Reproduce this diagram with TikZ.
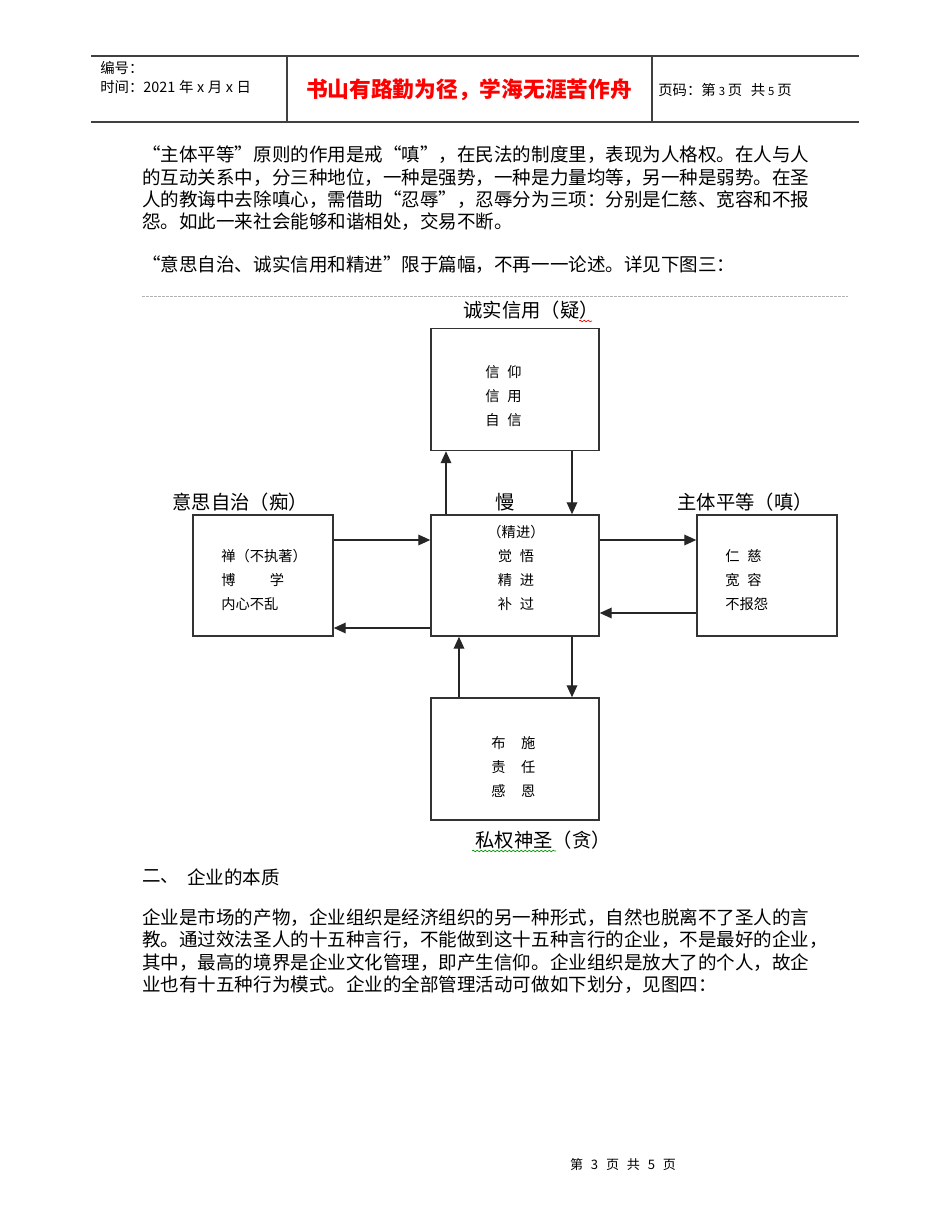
\documentclass[tikz,border=0pt]{standalone}
\usepackage{fontspec}
\setmainfont{Noto Sans CJK SC}
\usetikzlibrary{arrows.meta,decorations.pathmorphing}
\begin{document}
\begin{tikzpicture}[x=0.75pt,y=-0.75pt,
  body/.style={anchor=west,inner sep=0pt,font=\fontsize{13.9}{16}\selectfont},
  hdr/.style={anchor=west,inner sep=0pt,font=\fontsize{10.8}{12}\selectfont},
  rule/.style={draw=black!75,line width=0.8pt},
  box/.style={draw=black!80,line width=1.1pt},
  lbl/.style={inner sep=0pt,font=\fontsize{14.5}{16}\selectfont},
  boxtext/.style={inner sep=0pt,align=left,font=\fontsize{10.7}{18}\selectfont},
  conn/.style={draw=black!85,line width=1pt,-{Triangle[length=9pt,width=8pt]}},
  squig/.style={decorate,decoration={snake,amplitude=0.6pt,segment length=3pt},line width=0.5pt}
]
\useasboundingbox (0,0) rectangle (950,1230);
% header
\coordinate (h1) at (91,56); \coordinate (h2) at (859,56);
\coordinate (h3) at (91,122); \coordinate (h4) at (859,122);
\coordinate (v1a) at (287,56); \coordinate (v1b) at (287,122);
\coordinate (v2a) at (652,56); \coordinate (v2b) at (652,122);
\draw[rule] (h1) -- (h2);
\draw[rule] (h3) -- (h4);
\draw[rule] (v1a) -- (v1b);
\draw[rule] (v2a) -- (v2b);
\node[hdr] (bh) at (100,68) {编号：};
\node[hdr] (sj) at (100,87) {时间：2021\hspace{0.25em}年\hspace{0.25em}x\hspace{0.25em}月\hspace{0.25em}x\hspace{0.25em}日};
\node[inner sep=0pt,text=red,font=\fontsize{16.3}{18}\selectfont\bfseries] (motto) at (469,90) {书山有路勤为径，学海无涯苦作舟};
\node[hdr] (ym) at (658,90) {页码：第\hspace{0.2em}{\fontsize{8.5}{10}\selectfont 3}\hspace{0.2em}页\hspace{0.6em}共\hspace{0.2em}{\fontsize{8.5}{10}\selectfont 5}\hspace{0.2em}页};
% body text
\node[body] (p1) at (142,155) {“主体平等”原则的作用是戒“嗔”，在民法的制度里，表现为人格权。在人与人};
\node[body] (p2) at (142,178) {的互动关系中，分三种地位，一种是强势，一种是力量均等，另一种是弱势。在圣};
\node[body] (p3) at (142,200) {人的教诲中去除嗔心，需借助“忍辱”，忍辱分为三项：分别是仁慈、宽容和不报};
\node[body] (p4) at (142,222) {怨。如此一来社会能够和谐相处，交易不断。};
\node[body] (p5) at (142,265) {“意思自治、诚实信用和精进”限于篇幅，不再一一论述。详见下图三：};
\coordinate (d1) at (142,296); \coordinate (d2) at (848,296);
\draw[black!30,dashed,dash pattern=on 2pt off 1pt,line width=0.6pt] (d1) -- (d2);
% boxes
\node[box,minimum width=126pt,minimum height=91.5pt,inner sep=0pt] (top) at (515,389.5) {};
\node[box,minimum width=126pt,minimum height=90.75pt,inner sep=0pt] (mid) at (515,575.5) {};
\node[box,minimum width=105pt,minimum height=90.75pt,inner sep=0pt] (left) at (263,575.5) {};
\node[box,minimum width=105pt,minimum height=90.75pt,inner sep=0pt] (right) at (767,575.5) {};
\node[box,minimum width=126pt,minimum height=91.5pt,inner sep=0pt] (bot) at (515,759) {};
% labels
\node[lbl] (ltop) at (531,310) {诚实信用（疑）};
\node[lbl] (lmid) at (505,502) {慢};
\node[lbl] (lleft) at (240,502) {意思自治（痴）};
\node[lbl] (lright) at (745,502) {主体平等（嗔）};
\node[lbl] (lbot) at (543,840) {私权神圣（贪）};
\coordinate (sq1) at (579,321); \coordinate (sq2) at (592,321);
\draw[squig,red] (sq1) -- (sq2);
\coordinate (sq3) at (472,851); \coordinate (sq4) at (556,851);
\draw[squig,green!60!black] (sq3) -- (sq4);
% box texts
\node[boxtext,anchor=west] (ttop) at (485,396) {信\hspace{0.55em}仰\\信\hspace{0.55em}用\\自\hspace{0.55em}信};
\node[boxtext,align=center] (tmid) at (516,568) {（精进）\\觉\hspace{0.55em}悟\\精\hspace{0.55em}进\\补\hspace{0.55em}过};
\node[boxtext,anchor=west] (tleft) at (221,580) {禅（不执著）\\博\hspace{2.4em}学\\内心不乱};
\node[boxtext,anchor=west] (tright) at (725,580) {仁\hspace{0.55em}慈\\宽\hspace{0.55em}容\\不报怨};
\node[boxtext,anchor=west] (tbot) at (491,767) {布\hspace{1.1em}施\\责\hspace{1.1em}任\\感\hspace{1.1em}恩};
% connectors
\draw[conn] (mid.north -| 446,0) -- (top.south -| 446,0);
\draw[conn] (top.south -| 572,0) -- (mid.north -| 572,0);
\draw[conn] (left.east |- 0,540) -- (mid.west |- 0,540);
\draw[conn] (mid.west |- 0,628) -- (left.east |- 0,628);
\draw[conn] (mid.east |- 0,540) -- (right.west |- 0,540);
\draw[conn] (right.west |- 0,613) -- (mid.east |- 0,613);
\draw[conn] (mid.south -| 572,0) -- (bot.north -| 572,0);
\draw[conn] (bot.north -| 459,0) -- (mid.south -| 459,0);
% section 2
\node[body] (s2a) at (142,877) {二、};
\node[body] (s2b) at (187,877) {企业的本质};
\node[body] (q1) at (142,918) {企业是市场的产物，企业组织是经济组织的另一种形式，自然也脱离不了圣人的言};
\node[body] (q2) at (142,940) {教。通过效法圣人的十五种言行，不能做到这十五种言行的企业，不是最好的企业，};
\node[body] (q3) at (142,963) {其中，最高的境界是企业文化管理，即产生信仰。企业组织是放大了的个人，故企};
\node[body] (q4) at (142,985) {业也有十五种行为模式。企业的全部管理活动可做如下划分，见图四：};
\node[inner sep=0pt,font=\fontsize{9.8}{11}\selectfont] (foot) at (623,1165) {第\hspace{0.6em}3\hspace{0.6em}页\hspace{0.6em}共\hspace{0.6em}5\hspace{0.6em}页};
\end{tikzpicture}
\end{document}
